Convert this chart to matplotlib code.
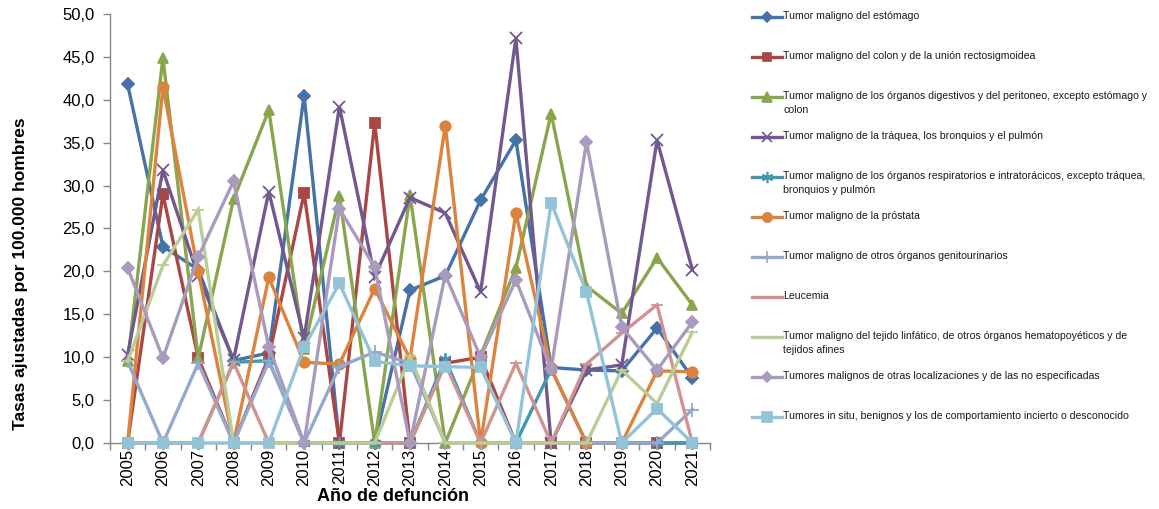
import matplotlib.pyplot as plt
from matplotlib.lines import Line2D
from matplotlib.ticker import FixedLocator, FuncFormatter

plt.rcParams["font.family"] = ["Liberation Sans", "DejaVu Sans"]

years = list(range(2005, 2022))

estomago = [41.8, 22.9, 20.2, 9.6, 10.5, 40.5, 0, 0, 17.8, 19.5, 28.3, 35.3, 8.8, 8.5, 8.4, 13.4, 7.6]
colon = [0, 29.0, 9.9, 0, 10.0, 29.1, 0, 37.3, 0, 9.3, 10.0, 0, 0, 0, 0, 0, 0]
digestivos = [9.5, 44.9, 9.9, 28.4, 38.8, 11.0, 28.8, 0, 28.9, 0, 10.2, 20.4, 38.4, 18.3, 15.1, 21.6, 16.1]
traquea = [10.3, 31.8, 19.5, 9.7, 29.3, 12.2, 39.2, 19.4, 28.6, 26.8, 17.6, 47.2, 0, 8.5, 9.1, 35.3, 20.2]
respiratorios = [0, 0, 0, 9.4, 9.6, 0, 0, 0, 0, 9.8, 0, 0, 8.6, 0, 0, 0, 0]
prostata = [0, 41.5, 20.0, 0, 19.3, 9.4, 9.2, 18.0, 9.8, 37.0, 0, 26.8, 8.7, 0, 0, 8.4, 8.3]
genitourinarios = [9.5, 0, 9.3, 0, 9.5, 0, 8.9, 10.6, 9.3, 0, 0, 0, 0, 0, 0, 0, 3.9]
leucemia = [0, 0, 0, 9.4, 0, 0, 0, 0, 0, 9.2, 0, 9.3, 0, 9.2, 12.8, 16.1, 0]
linfatico = [9.5, 20.7, 27.2, 0, 0, 0, 0, 0, 10.1, 0, 0, 0, 0, 0, 8.5, 4.6, 12.9]
otras = [20.4, 9.9, 21.7, 30.5, 11.2, 0, 27.3, 20.5, 0, 19.6, 10.0, 19.0, 8.6, 35.1, 13.5, 8.5, 14.1]
insitu = [0, 0, 0, 0, 0, 11.2, 18.6, 9.5, 9.0, 8.9, 8.8, 0, 28.0, 17.6, 0, 4.0, 0]

labels = [
    "Tumor maligno del estómago",
    "Tumor maligno del colon y de la unión rectosigmoidea",
    "Tumor maligno de los órganos digestivos y del peritoneo, excepto estómago y\ncolon",
    "Tumor maligno de la tráquea, los bronquios y el pulmón",
    "Tumor maligno de los órganos respiratorios e intratorácicos, excepto tráquea,\nbronquios y pulmón",
    "Tumor maligno de la próstata",
    "Tumor maligno de otros órganos genitourinarios",
    "Leucemia",
    "Tumor maligno del tejido linfático, de otros órganos hematopoyéticos y de\ntejidos afines",
    "Tumores malignos de otras localizaciones y de las no especificadas",
    "Tumores in situ, benignos y los de comportamiento incierto o desconocido",
]
series = [estomago, colon, digestivos, traquea, respiratorios, prostata,
          genitourinarios, leucemia, linfatico, otras, insitu]

colors = ["#4572A7", "#AA4643", "#89A54E", "#71588F", "#4198AF", "#DB843D",
          "#93A9CF", "#D19392", "#B9CD96", "#A99BBD", "#92C3D6"]
markers = ["D", "s", "^", "x", (6, 2, 0), "o", "+", "_", "_", "D", "s"]
msizes = [6, 7, 7.5, 8, 9, 7.5, 10, 8, 8, 6, 7.5]

fig = plt.figure(figsize=(11.59, 5.09), dpi=100)
ax = fig.add_axes([0.0949, 0.1297, 0.5177, 0.8428])

for vals, col, mk, ms in zip(series, colors, markers, msizes):
    ax.plot(years, vals, color=col, lw=2.4, marker=mk, markersize=ms,
            markeredgewidth=1.3, markerfacecolor=col, markeredgecolor=col,
            solid_joinstyle="miter", clip_on=False, zorder=3)

ax.set_xlim(2004.5, 2021.5)
ax.set_ylim(0, 50)
ax.set_yticks([i * 5 for i in range(11)])
ax.yaxis.set_major_formatter(FuncFormatter(lambda v, p: f"{v:.1f}".replace(".", ",")))
ax.set_xticks(years)
ax.set_xticklabels([str(y) for y in years], rotation=90)
ax.xaxis.set_minor_locator(FixedLocator([y + 0.5 for y in range(2004, 2022)]))
ax.tick_params(axis="x", which="major", length=0, pad=4, labelsize=12)
ax.tick_params(axis="x", which="minor", length=5, color="#868686", width=1)
ax.tick_params(axis="y", length=5, color="#868686", width=1, labelsize=12, pad=6)

for s in ["top", "right"]:
    ax.spines[s].set_visible(False)
for s in ["left", "bottom"]:
    ax.spines[s].set_color("#868686")
    ax.spines[s].set_linewidth(1)

fig.text(0.018, 0.462, "Tasas ajustadas por 100.000 hombres", rotation=90,
         ha="center", va="center", fontsize=12.5, fontweight="bold")
fig.text(0.339, 0.024, "Año de defunción", ha="center", va="center",
         fontsize=13, fontweight="bold")

# legend drawn by hand so that entries keep Excel's even spacing
W, H = 1159, 509
for i, (lab, col, mk, ms) in enumerate(zip(labels, colors, markers, msizes)):
    yc = 1 - (17 + 40 * i) / H
    fig.add_artist(Line2D([752 / W, 782 / W], [yc, yc], color=col, lw=2.4,
                          transform=fig.transFigure))
    fig.add_artist(Line2D([767 / W], [yc], color=col, marker=mk,
                          markersize=ms * 0.9, markeredgewidth=1.2,
                          transform=fig.transFigure))
    fig.text(783 / W, yc + 6 / H, lab, ha="left", va="top", fontsize=7.6,
             linespacing=1.5, color="#1a1a1a", transform=fig.transFigure)

fig.savefig("out.png", dpi=100)
